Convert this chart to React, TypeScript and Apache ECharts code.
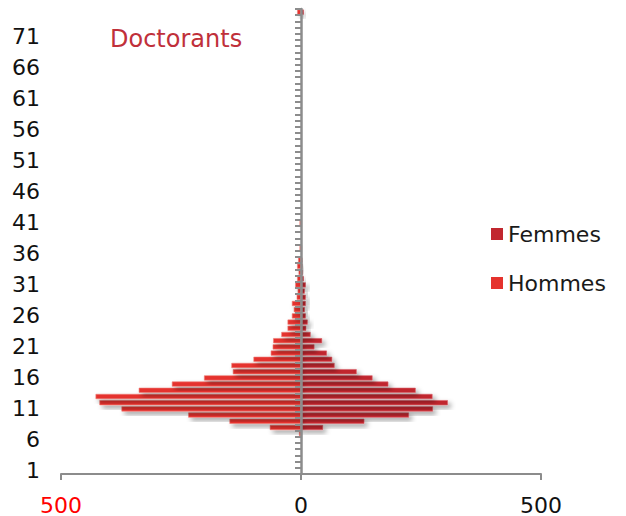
import React, { useEffect, useRef } from "react";
import * as echarts from "echarts";

// Category labels (index of the age class)
const categories: string[] = [
  "1", "2", "3", "4", "5", "6", "7", "8", "9", "10",
  "11", "12", "13", "14", "15", "16", "17", "18", "19", "20",
  "21", "22", "23", "24", "25", "26", "27", "28", "29", "30",
  "31", "32", "33", "34", "35", "36", "37", "38", "39", "40",
  "41", "42", "43", "44", "45", "46", "47", "48", "49", "50",
  "51", "52", "53", "54", "55", "56", "57", "58", "59", "60",
  "61", "62", "63", "64", "65", "66", "67", "68", "69", "70",
  "71", "72", "73", "74", "75",
];

// Femmes (right side)
const femmes: number[] = [
  0, 0, 0, 0, 0, 0, 0, 46, 132, 225,
  275, 306, 274, 239, 182, 149, 116, 70, 65, 54,
  28, 44, 20, 11, 14, 10, 8, 10, 10, 8,
  10, 6, 4, 3, 3, 1, 2, 1, 1, 1,
  0, 0, 0, 0, 0, 0, 0, 0, 0, 0,
  0, 0, 0, 0, 0, 0, 0, 0, 0, 0,
  0, 0, 0, 0, 0, 0, 0, 0, 0, 0,
  0, 0, 0, 0, 6,
];

// Hommes (left side, counts)
const hommes: number[] = [
  0, 0, 0, 0, 0, 0, 4, 65, 149, 235,
  374, 420, 428, 338, 269, 202, 142, 145, 99, 63,
  59, 58, 41, 28, 28, 19, 15, 19, 9, 7,
  12, 8, 5, 8, 6, 1, 3, 0, 0, 0,
  3, 0, 0, 0, 0, 0, 0, 0, 0, 0,
  0, 0, 0, 0, 0, 0, 0, 0, 0, 0,
  0, 0, 0, 0, 0, 0, 0, 0, 0, 0,
  0, 0, 0, 0, 8,
];

const xTicks = { min: -500, max: 500, interval: 500 };

const FONT = "DejaVu Sans";
const AXIS_GRAY = "#8c8c8c";

export default function App() {
  const ref = useRef<HTMLDivElement>(null);

  useEffect(() => {
    if (!ref.current) return;
    const chart = echarts.init(ref.current, undefined, { renderer: "svg" });
    const barShadow = {
      shadowBlur: 5,
      shadowColor: "rgba(0,0,0,0.38)",
      shadowOffsetX: 3,
      shadowOffsetY: 3,
    };
    const option: any = {
      animation: false,
      backgroundColor: "#ffffff",
      title: {
        text: "Doctorants",
        left: 110,
        top: 27,
        padding: 0,
        textStyle: {
          color: "#C0303A",
          fontSize: 24,
          fontWeight: "normal",
          fontFamily: FONT,
        },
      },
      legend: {
        orient: "vertical",
        left: 486,
        top: 218,
        itemWidth: 12,
        itemHeight: 12,
        itemGap: 27,
        icon: "rect",
        data: ["Femmes", "Hommes"],
        itemStyle: { borderWidth: 0, shadowBlur: 0, shadowOffsetX: 0, shadowOffsetY: 0 },
        textStyle: {
          fontSize: 22,
          lineHeight: 20,
          fontFamily: FONT,
          color: "#1a1a1a",
        },
      },
      grid: { left: 61, right: 85, top: 9, bottom: 42 },
      xAxis: {
        type: "value",
        min: xTicks.min,
        max: xTicks.max,
        interval: xTicks.interval,
        splitLine: { show: false },
        axisLine: { show: true, lineStyle: { color: AXIS_GRAY, width: 2 } },
        axisTick: { show: true, length: 6, lineStyle: { color: AXIS_GRAY, width: 2 } },
        axisLabel: {
          margin: 20,
          fontSize: 22,
          fontFamily: FONT,
          formatter: (v: number) => String(Math.abs(v)),
          color: (v: any) => (Number(v) < 0 ? "#ff0000" : "#111111"),
        },
      },
      yAxis: [
        {
          type: "category",
          data: categories,
          position: "left",
          axisLine: { show: false, onZero: false },
          axisTick: { show: false },
          axisLabel: {
            interval: 4,
            margin: 21,
            fontSize: 22,
            fontFamily: FONT,
            color: "#111111",
          },
        },
        {
          type: "category",
          data: categories,
          position: "right",
          z: 5,
          axisLine: { show: true, onZero: true, lineStyle: { color: AXIS_GRAY, width: 2.5 } },
          axisTick: {
            show: true,
            inside: true,
            length: 6,
            interval: 0,
            lineStyle: { color: AXIS_GRAY, width: 2 },
          },
          axisLabel: { show: false },
        },
      ],
      series: [
        {
          name: "Femmes",
          type: "bar",
          stack: "total",
          yAxisIndex: 0,
          barWidth: "82%",
          data: femmes.map((v) => (v === 0 ? null : v)),
          itemStyle: {
            color: "#C1272F",
            borderColor: "#D8626A",
            borderWidth: 0.6,
            ...barShadow,
          },
        },
        {
          name: "Hommes",
          type: "bar",
          stack: "total",
          yAxisIndex: 0,
          barWidth: "82%",
          data: hommes.map((v) => (v === 0 ? null : -v)),
          itemStyle: {
            color: "#E5322D",
            borderColor: "#EE7D77",
            borderWidth: 0.6,
            ...barShadow,
          },
        },
      ],
    };
    chart.setOption(option);
    return () => chart.dispose();
  }, []);

  return (
    <div
      ref={ref}
      style={{ position: "fixed", left: 0, top: 0, width: 626, height: 516 }}
    />
  );
}
